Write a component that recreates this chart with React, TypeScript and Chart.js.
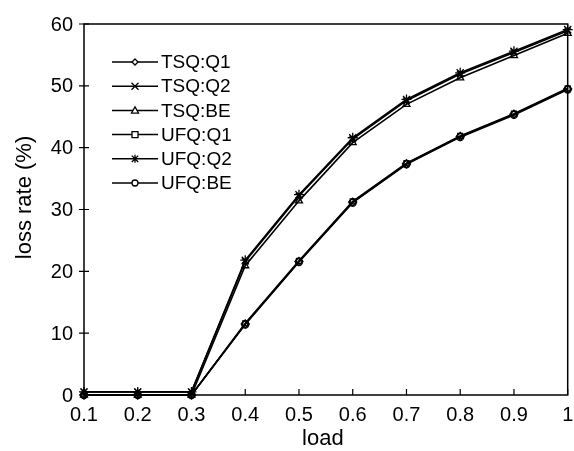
import React, { useEffect, useRef } from "react";
import { Chart, registerables } from "chart.js";

Chart.register(...registerables);

const loads = [0.1, 0.2, 0.3, 0.4, 0.5, 0.6, 0.7, 0.8, 0.9, 1.0];
const tsqQ1 = [0, 0, 0, 11.5, 21.6, 31.2, 37.4, 41.8, 45.4, 49.5];
const tsqQ2 = [0.5, 0.5, 0.5, 21.6, 32.2, 41.4, 47.6, 51.9, 55.4, 58.9];
const tsqBE = [0, 0, 0, 20.9, 31.4, 40.8, 47.0, 51.3, 54.9, 58.5];
const ufqQ1 = [0, 0, 0, 11.6, 21.7, 31.3, 37.5, 41.9, 45.5, 49.6];
const ufqQ2 = [0.5, 0.5, 0.5, 21.8, 32.4, 41.6, 47.8, 52.1, 55.6, 59.1];
const ufqBE = [0, 0, 0, 11.4, 21.5, 31.1, 37.3, 41.7, 45.3, 49.4];

const seriesNames = ["TSQ:Q1", "TSQ:Q2", "TSQ:BE", "UFQ:Q1", "UFQ:Q2", "UFQ:BE"];
const seriesValues = [tsqQ1, tsqQ2, tsqBE, ufqQ1, ufqQ2, ufqBE];
const seriesMarkers = ["rectRot", "crossRot", "triangle", "rect", "star", "circle"];
const markerSizes = [4, 4.5, 4, 3.5, 5, 3.5];
const legendMarkerSizes = [3, 3.5, 3.5, 3, 4, 3];

const xTickLabels = ["0.1", "0.2", "0.3", "0.4", "0.5", "0.6", "0.7", "0.8", "0.9", "1"];
const yTickLabels = ["0", "10", "20", "30", "40", "50", "60"];
const xTitle = "load";
const yTitle = "loss rate (%)";

const FONT = '"Liberation Sans", Arial, sans-serif';

function drawMarker(ctx: CanvasRenderingContext2D, style: string, r: number, x: number, y: number) {
  ctx.save();
  ctx.lineWidth = 1.3;
  ctx.strokeStyle = "#000";
  ctx.fillStyle = "#fff";
  ctx.beginPath();
  switch (style) {
    case "rectRot":
      ctx.moveTo(x, y - r);
      ctx.lineTo(x + r, y);
      ctx.lineTo(x, y + r);
      ctx.lineTo(x - r, y);
      ctx.closePath();
      ctx.fill();
      ctx.stroke();
      break;
    case "crossRot":
      ctx.moveTo(x - r, y - r);
      ctx.lineTo(x + r, y + r);
      ctx.moveTo(x - r, y + r);
      ctx.lineTo(x + r, y - r);
      ctx.stroke();
      break;
    case "triangle":
      ctx.moveTo(x, y - r);
      ctx.lineTo(x + r, y + r * 0.75);
      ctx.lineTo(x - r, y + r * 0.75);
      ctx.closePath();
      ctx.fill();
      ctx.stroke();
      break;
    case "rect":
      ctx.rect(x - r, y - r, 2 * r, 2 * r);
      ctx.fill();
      ctx.stroke();
      break;
    case "star":
      ctx.moveTo(x - r * 0.8, y - r * 0.8);
      ctx.lineTo(x + r * 0.8, y + r * 0.8);
      ctx.moveTo(x - r * 0.8, y + r * 0.8);
      ctx.lineTo(x + r * 0.8, y - r * 0.8);
      ctx.moveTo(x, y - r);
      ctx.lineTo(x, y + r);
      ctx.stroke();
      break;
    default:
      ctx.arc(x, y, r, 0, Math.PI * 2);
      ctx.fill();
      ctx.stroke();
  }
  ctx.restore();
}

const framePlugin = {
  id: "frame",
  afterDraw(chart: any) {
    const { ctx, chartArea } = chart;
    const { left, right, top, bottom } = chartArea;
    const xs = chart.scales.x;
    const ys = chart.scales.y;
    ctx.save();
    ctx.strokeStyle = "#000";
    ctx.lineWidth = 1.5;
    ctx.strokeRect(left, top, right - left, bottom - top);
    ctx.lineWidth = 1.2;
    ctx.beginPath();
    for (const lab of yTickLabels) {
      const y = ys.getPixelForValue(parseFloat(lab));
      ctx.moveTo(left - 5, y);
      ctx.lineTo(left + 5, y);
    }
    for (const lab of xTickLabels) {
      const x = xs.getPixelForValue(parseFloat(lab));
      ctx.moveTo(x, bottom);
      ctx.lineTo(x, bottom - 6);
    }
    ctx.stroke();

    ctx.fillStyle = "#000";
    ctx.font = `20px ${FONT}`;
    ctx.textAlign = "right";
    ctx.textBaseline = "middle";
    for (const lab of yTickLabels) {
      const y = ys.getPixelForValue(parseFloat(lab));
      ctx.fillText(lab, left - 11, y + 1);
    }
    ctx.textAlign = "center";
    for (const lab of xTickLabels) {
      const x = xs.getPixelForValue(parseFloat(lab));
      ctx.fillText(lab, x, bottom + 20);
    }
    ctx.font = `22px ${FONT}`;
    ctx.fillText(xTitle, (left + right) / 2 - 3, bottom + 44);
    ctx.save();
    ctx.translate(25, (top + bottom) / 2 - 12);
    ctx.rotate(-Math.PI / 2);
    ctx.fillText(yTitle, 0, 0);
    ctx.restore();

    // legend
    ctx.font = `19px ${FONT}`;
    ctx.textAlign = "left";
    ctx.textBaseline = "middle";
    for (let i = 0; i < seriesNames.length; i++) {
      const y = top + 38 + i * 24.2;
      const x0 = left + 28;
      const x1 = left + 74;
      ctx.lineWidth = 1.5;
      ctx.strokeStyle = "#000";
      ctx.beginPath();
      ctx.moveTo(x0, y);
      ctx.lineTo(x1, y);
      ctx.stroke();
      drawMarker(ctx, seriesMarkers[i], legendMarkerSizes[i], (x0 + x1) / 2, y);
      ctx.fillStyle = "#000";
      ctx.fillText(seriesNames[i], x1 + 3, y + 1);
    }
    ctx.restore();
  },
};

export default function App() {
  const ref = useRef<HTMLCanvasElement | null>(null);
  useEffect(() => {
    document.body.style.margin = "0";
    const canvas = ref.current!;
    const chart = new Chart(canvas, {
      type: "line",
      data: {
        datasets: seriesNames.map((name, i) => ({
          label: name,
          data: loads.map((l, j) => ({ x: l, y: seriesValues[i][j] })),
          borderColor: "#000",
          borderWidth: 1.6,
          backgroundColor: "rgba(255,255,255,0)",
          pointStyle: seriesMarkers[i] as any,
          pointRadius: markerSizes[i],
          pointBorderColor: "#000",
          pointBorderWidth: 1.3,
          pointBackgroundColor: "rgba(255,255,255,0)",
          tension: 0,
          clip: false as any,
        })),
      },
      options: {
        animation: false,
        responsive: false,
        devicePixelRatio: 1,
        layout: { padding: { left: 0, right: 3, top: 24, bottom: 0 } },
        plugins: { legend: { display: false }, tooltip: { enabled: false } },
        scales: {
          x: {
            type: "linear",
            min: 0.1,
            max: 1,
            grid: { display: false, drawTicks: false },
            border: { display: false },
            ticks: { display: false },
            afterFit: (s: any) => {
              s.height = 56;
            },
          },
          y: {
            type: "linear",
            min: 0,
            max: 60,
            grid: { display: false, drawTicks: false },
            border: { display: false },
            ticks: { display: false },
            afterFit: (s: any) => {
              s.width = 84;
            },
          },
        },
      },
      plugins: [framePlugin],
    });
    return () => chart.destroy();
  }, []);
  return (
    <div style={{ width: 574, height: 451 }}>
      <canvas ref={ref} width={574} height={451} style={{ display: "block" }} />
    </div>
  );
}
